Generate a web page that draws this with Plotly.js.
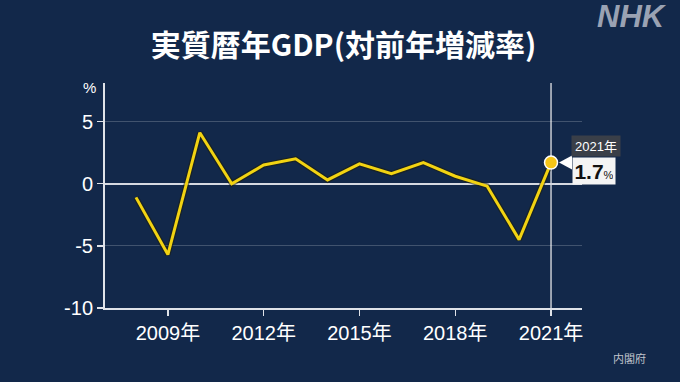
<!DOCTYPE html>
<html><head><meta charset="utf-8">
<script src="https://cdn.plot.ly/plotly-3.0.1.min.js"></script>
<style>html,body{margin:0;padding:0;background:#12284a;}</style>
</head><body><div id="chart" style="width:680px;height:382px;"></div>
<script>
const years = [2008,2009,2010,2011,2012,2013,2014,2015,2016,2017,2018,2019,2020,2021];
const growth = [-1.1,-5.7,4.1,0.0,1.5,2.0,0.3,1.6,0.8,1.7,0.6,-0.2,-4.5,1.7];
const tickYears = [2009,2012,2015,2018,2021];
const tickLabels = tickYears.map(y => y + '年');
const yTicks = [5,0,-5,-10];
const yTickLabels = ['5','0','-5','-10'];
const titleText = '実質暦年GDP(対前年増減率)';
const sourceText = '内閣府';
const unitText = '%';
const logoText = 'NHK';

const last = years.length - 1;
const lastYear = years[last];
const lastVal = growth[last];

const bg = '#12284a';
const axisCol = '#dfe2e8';
const FONT = 'Liberation Sans, Arial, Noto Sans CJK JP, sans-serif';
const CJK = 'Noto Sans CJK JP, sans-serif';

const traces = [
  {x: years, y: growth, mode: 'lines', line: {color: 'rgba(30,30,10,0.55)', width: 5.5}, hoverinfo: 'skip'},
  {x: years, y: growth, mode: 'lines', line: {color: '#f2d312', width: 3}},
  {x: [lastYear], y: [lastVal], mode: 'markers',
   marker: {size: 13, color: '#f5c518', line: {color: '#ffffff', width: 1.5}}}
];

const layout = {
  width: 680, height: 382,
  paper_bgcolor: bg, plot_bgcolor: bg,
  showlegend: false,
  margin: {l: 105, r: 98, t: 83, b: 74},
  title: {text: '<b>' + titleText + '</b>', x: 0.5, xref: 'paper', xanchor: 'center',
          y: 1 - 45/382, yref: 'container', yanchor: 'middle',
          font: {family: CJK, size: 30, color: '#ffffff'}},
  xaxis: {range: [2007.03, 2021.97], tickvals: tickYears, ticktext: tickLabels,
          ticks: 'outside', ticklen: 6, tickwidth: 1.5, tickcolor: axisCol,
          showline: true, linecolor: axisCol, linewidth: 2,
          showgrid: false, zeroline: false,
          tickfont: {family: FONT, size: 20, color: '#ffffff'}, fixedrange: true},
  yaxis: {range: [-10, 8.1], tickvals: yTicks, ticktext: yTickLabels,
          ticks: 'outside', ticklen: 6, tickwidth: 1.5, tickcolor: axisCol,
          showline: true, linecolor: axisCol, linewidth: 2,
          showgrid: true, gridcolor: 'rgba(255,255,255,0.2)', gridwidth: 1,
          zeroline: true, zerolinecolor: '#d5d9e0', zerolinewidth: 2,
          tickfont: {family: FONT, size: 20, color: '#ffffff'}, fixedrange: true},
  shapes: [
    {type: 'line', xref: 'x', yref: 'paper', x0: lastYear, x1: lastYear, y0: 0, y1: 1,
     line: {color: '#c8ccd4', width: 1.5}, layer: 'below'},
    {type: 'path', xref: 'x', yref: 'y', xsizemode: 'pixel', ysizemode: 'pixel',
     xanchor: lastYear, yanchor: lastVal,
     path: 'M 8,0 L 21,7 L 21,-7 Z', fillcolor: '#ffffff', line: {width: 0}}
  ],
  annotations: [
    {xref: 'x', yref: 'y', x: lastYear, y: lastVal, xanchor: 'left', yanchor: 'bottom',
     xshift: 20, yshift: 6, showarrow: false, text: lastYear + '年',
     bgcolor: '#3a3f48', width: 44, height: 16, borderpad: 2,
     font: {family: FONT, size: 13, color: '#ffffff'}},
    {xref: 'x', yref: 'y', x: lastYear, y: lastVal, xanchor: 'left', yanchor: 'top',
     xshift: 21, yshift: 6, showarrow: false,
     text: '<b>' + lastVal.toFixed(1) + '</b><span style="font-size:11px">' + unitText + '</span>',
     bgcolor: '#f4f4f4', width: 38, height: 22, borderpad: 2,
     font: {family: FONT, size: 21, color: '#111111'}},
    {xref: 'paper', yref: 'paper', x: 0, y: 1, xanchor: 'center', yanchor: 'middle',
     xshift: -16, yshift: -4, showarrow: false, text: unitText,
     font: {family: FONT, size: 15, color: '#ffffff'}},
    {xref: 'paper', yref: 'paper', x: (632-105)/477, y: 1 + (83-16)/225,
     xanchor: 'center', yanchor: 'middle', showarrow: false, text: logoText,
     font: {family: FONT, size: 31, color: '#9aa2b3', weight: 'bold', style: 'italic'}},
    {xref: 'paper', yref: 'paper', x: (629-105)/477, y: -(358-308)/225,
     xanchor: 'center', yanchor: 'middle', showarrow: false, text: sourceText,
     font: {family: CJK, size: 11, color: '#c0c4cc'}}
  ]
};

Plotly.newPlot('chart', traces, layout, {displayModeBar: false, staticPlot: true});
</script>
</body></html>
